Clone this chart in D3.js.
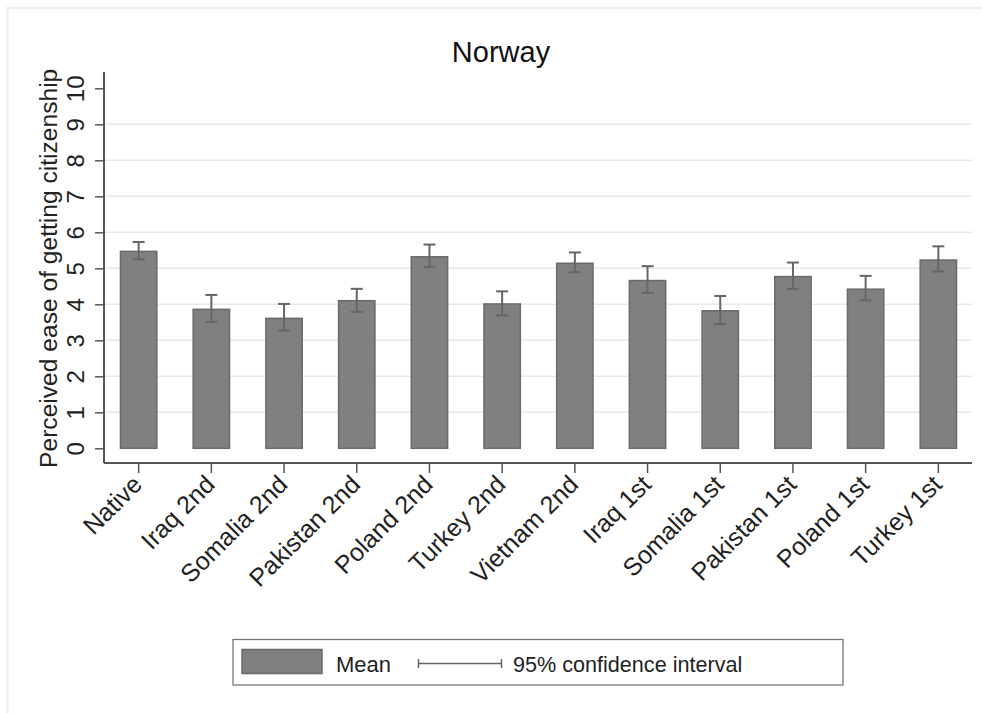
<!DOCTYPE html>
<html>
<head>
<meta charset="utf-8">
<script src="https://cdn.jsdelivr.net/npm/d3@7"></script>
<style>
  html, body { margin: 0; padding: 0; background: #fff; }
  svg { display: block; font-family: "Liberation Sans", Arial, Helvetica, sans-serif; }
</style>
</head>
<body>
<svg id="chart" width="982" height="713"></svg>
<script>
// Groups, means and 95% confidence bounds
const groups = ["Native", "Iraq 2nd", "Somalia 2nd", "Pakistan 2nd", "Poland 2nd", "Turkey 2nd",
                "Vietnam 2nd", "Iraq 1st", "Somalia 1st", "Pakistan 1st", "Poland 1st", "Turkey 1st"];
const means  = [5.47, 3.86, 3.61, 4.10, 5.32, 4.01, 5.14, 4.66, 3.82, 4.77, 4.42, 5.23];
const ciLow  = [5.25, 3.51, 3.27, 3.79, 5.04, 3.69, 4.89, 4.32, 3.45, 4.43, 4.11, 4.91];
const ciHigh = [5.73, 4.26, 4.01, 4.43, 5.66, 4.36, 5.44, 5.06, 4.23, 5.16, 4.79, 5.61];
const yTicks = [0, 1, 2, 3, 4, 5, 6, 7, 8, 9, 10];

const rows = groups.map((g, i) => ({ g, mean: means[i], lo: ciLow[i], hi: ciHigh[i] }));

const svg = d3.select("#chart");

// faint outer frame
svg.append("line").attr("x1", 6).attr("x2", 982).attr("y1", 8).attr("y2", 8)
  .attr("stroke", "#f0f0f0").attr("stroke-width", 2.5);
svg.append("line").attr("x1", 7.5).attr("x2", 7.5).attr("y1", 7).attr("y2", 713)
  .attr("stroke", "#f0f0f0").attr("stroke-width", 2.5);

const plotLeft = 104, plotRight = 972, plotTop = 72, plotBottom = 463;

const x = d3.scaleBand().domain(groups).range([102.3, 974.7])
  .paddingInner(0.5).paddingOuter(0.25);
const y = d3.scaleLinear().domain([0, 10]).range([448.3, 88.3]);

// gridlines
svg.append("g").selectAll("line").data(yTicks.filter(t => t > 0 && t < 10)).join("line")
  .attr("x1", plotLeft).attr("x2", plotRight)
  .attr("y1", d => y(d)).attr("y2", d => y(d))
  .attr("stroke", "#e9e9e9").attr("stroke-width", 1.5);

// bars
svg.append("g").selectAll("rect").data(rows).join("rect")
  .attr("x", d => x(d.g)).attr("width", x.bandwidth())
  .attr("y", d => y(d.mean)).attr("height", d => y(0) - y(d.mean))
  .attr("fill", "#808080").attr("stroke", "#6a6a6a").attr("stroke-width", 1.5);

// confidence intervals
const ci = svg.append("g").attr("stroke", "#666").attr("stroke-width", 2);
const cx = d => x(d.g) + x.bandwidth() / 2;
ci.selectAll("line.v").data(rows).join("line").attr("class", "v")
  .attr("x1", cx).attr("x2", cx).attr("y1", d => y(d.lo)).attr("y2", d => y(d.hi));
ci.selectAll("line.t").data(rows).join("line").attr("class", "t")
  .attr("x1", d => cx(d) - 6).attr("x2", d => cx(d) + 6)
  .attr("y1", d => y(d.hi)).attr("y2", d => y(d.hi));
ci.selectAll("line.b").data(rows).join("line").attr("class", "b")
  .attr("x1", d => cx(d) - 6).attr("x2", d => cx(d) + 6)
  .attr("y1", d => y(d.lo)).attr("y2", d => y(d.lo));

// y axis
const yAxis = svg.append("g").attr("transform", `translate(${plotLeft},0)`)
  .call(d3.axisLeft(y).tickValues(yTicks).tickSize(9).tickPadding(0).tickFormat(d3.format("d")));
yAxis.select(".domain").remove();
yAxis.selectAll(".tick line").attr("stroke", "#555").attr("stroke-width", 1.5);
yAxis.selectAll(".tick text")
  .attr("x", null).attr("dy", null)
  .attr("transform", `translate(${84 - plotLeft},0) rotate(-90)`)
  .attr("text-anchor", "middle")
  .attr("fill", "#222").attr("font-size", 24);

svg.append("line").attr("x1", plotLeft).attr("x2", plotLeft)
  .attr("y1", plotTop).attr("y2", plotBottom)
  .attr("stroke", "#555").attr("stroke-width", 2);

// x axis
const xAxis = svg.append("g").attr("transform", `translate(0,${plotBottom})`)
  .call(d3.axisBottom(x).tickSize(10).tickPadding(0));
xAxis.select(".domain").remove();
xAxis.selectAll(".tick line").attr("stroke", "#555").attr("stroke-width", 1.5);
xAxis.selectAll(".tick text")
  .attr("y", null).attr("dy", null)
  .attr("transform", "translate(5,23) rotate(-45)")
  .attr("text-anchor", "end")
  .attr("fill", "#222").attr("font-size", 25);

svg.append("line").attr("x1", plotLeft).attr("x2", plotRight)
  .attr("y1", plotBottom).attr("y2", plotBottom)
  .attr("stroke", "#555").attr("stroke-width", 2);

// y axis title
svg.append("text")
  .attr("transform", `translate(57,${(y(0) + y(10)) / 2}) rotate(-90)`)
  .attr("text-anchor", "middle").attr("font-size", 24.6).attr("fill", "#222")
  .text("Perceived ease of getting citizenship");

// title
svg.append("text").attr("x", 501).attr("y", 62)
  .attr("text-anchor", "middle").attr("font-size", 29).attr("fill", "#111")
  .text("Norway");

// legend
const lg = svg.append("g");
lg.append("rect").attr("x", 233).attr("y", 639.5).attr("width", 610).attr("height", 45.5)
  .attr("fill", "#fff").attr("stroke", "#777").attr("stroke-width", 1.3);
lg.append("rect").attr("x", 242).attr("y", 649.5).attr("width", 80).attr("height", 24)
  .attr("fill", "#808080").attr("stroke", "#6a6a6a").attr("stroke-width", 1.5);
lg.append("text").attr("x", 336).attr("y", 671.5).attr("font-size", 22).attr("fill", "#222").text("Mean");
const lgci = lg.append("g").attr("stroke", "#666").attr("stroke-width", 1.5);
lgci.append("line").attr("x1", 418.5).attr("x2", 501.5).attr("y1", 663.5).attr("y2", 663.5);
lgci.append("line").attr("x1", 418.5).attr("x2", 418.5).attr("y1", 659).attr("y2", 668);
lgci.append("line").attr("x1", 501.5).attr("x2", 501.5).attr("y1", 659).attr("y2", 668);
lg.append("text").attr("x", 513).attr("y", 671.5).attr("font-size", 21.6).attr("fill", "#222")
  .text("95% confidence interval");
</script>
</body>
</html>
